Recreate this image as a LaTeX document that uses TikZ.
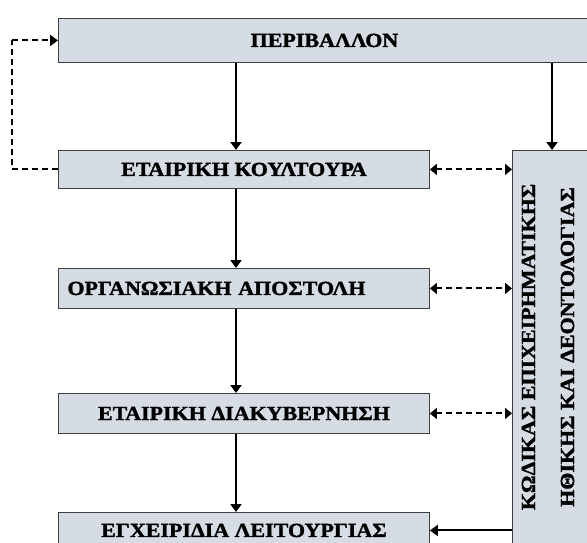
\documentclass[tikz,border=0pt]{standalone}
\usepackage{fontspec}
\setmainfont[FakeStretch=1.1,BoldFeatures={FakeBold=1.5}]{Liberation Serif}
\usetikzlibrary{arrows.meta}
\definecolor{boxfill}{HTML}{D6DCE4}
\definecolor{boxline}{HTML}{404040}
\begin{document}
\begin{tikzpicture}[x=1pt,y=-1pt,
  box/.style={draw=boxline,fill=boxfill,line width=0.9pt,inner sep=0pt,anchor=north west,
    font=\fontsize{20}{24}\selectfont\bfseries},
  tip/.style={-{Triangle[width=11pt,length=8pt]}},
  arr/.style={line width=2pt,-{Triangle[width=11pt,length=8pt]}},
  darr/.style={line width=2pt,dash pattern=on 6pt off 4pt,
    {Triangle[width=11pt,length=7pt]}-{Triangle[width=11pt,length=7pt]}},
  dline/.style={line width=2pt,dash pattern=on 6pt off 4pt}]
\begin{scope}
\clip (0,0) rectangle (587,543);
\node[box,minimum width=532pt,minimum height=44pt] (env) at (58,18) {ΠΕΡΙΒΑΛΛΟΝ};
\node[box,minimum width=371pt,minimum height=38pt] (culture) at (58,150) {ΕΤΑΙΡΙΚΗ ΚΟΥΛΤΟΥΡΑ};
\node[box,minimum width=371pt,minimum height=40pt,text width=353pt,inner xsep=9pt,align=left] (mission) at (58,268) {ΟΡΓΑΝΩΣΙΑΚΗ ΑΠΟΣΤΟΛΗ};
\node[box,minimum width=371pt,minimum height=40pt] (gov) at (58,393) {ΕΤΑΙΡΙΚΗ ΔΙΑΚΥΒΕΡΝΗΣΗ};
\node[box,minimum width=371pt,minimum height=36pt] (manual) at (58,512) {ΕΓΧΕΙΡΙΔΙΑ ΛΕΙΤΟΥΡΓΙΑΣ};
\node[box,minimum width=90pt,minimum height=420pt] (code) at (512,150) {};
\node[font=\fontsize{20}{39}\selectfont\bfseries,rotate=90,align=center,inner sep=0pt] (codetxt) at (548,347)
  {ΚΩΔΙΚΑΣ ΕΠΙΧΕΙΡΗΜΑΤΙΚΗΣ\\ΗΘΙΚΗΣ ΚΑΙ ΔΕΟΝΤΟΛΟΓΙΑΣ};
\coordinate (c1) at (236,0);
\coordinate (c2) at (552,0);
\coordinate (fb) at (12,0);
\draw[arr] (env.south -| c1) -- (culture.north -| c1);
\draw[arr] (env.south -| c2) -- (code.north -| c2);
\draw[arr] (culture.south -| c1) -- (mission.north -| c1);
\draw[arr] (mission.south -| c1) -- (gov.north -| c1);
\draw[arr] (gov.south -| c1) -- (manual.north -| c1);
\draw[darr] (culture.east) -- (code.west |- culture.east);
\draw[darr] (mission.east) -- (code.west |- mission.east);
\draw[darr] (gov.east) -- (code.west |- gov.east);
\draw[arr] (code.west |- manual.east) -- (manual.east);
\draw[dline] (culture.west) -- (culture.west -| fb) -- (env.west -| fb);
\draw[dline,tip] (env.west -| fb) -- (env.west);
\end{scope}
\pgfresetboundingbox
\useasboundingbox (0,0) rectangle (587,543);
\end{tikzpicture}
\end{document}
